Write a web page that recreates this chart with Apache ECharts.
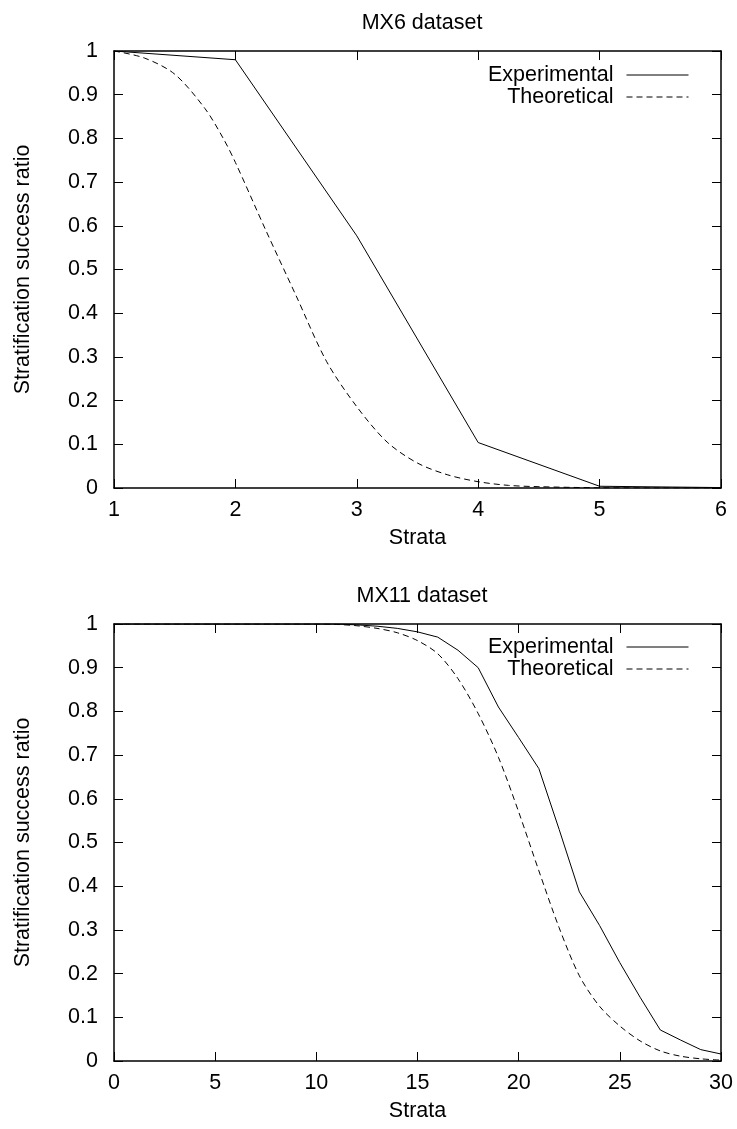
<!DOCTYPE html>
<html>
<head>
<meta charset="utf-8">
<script src="https://cdn.jsdelivr.net/npm/echarts@6/dist/echarts.min.js"></script>
<style>
html,body{margin:0;padding:0;background:#fff;}
#chart{width:737px;height:1129px;}
</style>
</head>
<body>
<div id="chart"></div>
<script>
// ---- Data ----
const mx6Strata = [1, 2, 3, 4, 5, 6];
const mx6Experimental = [1.0, 0.98, 0.577, 0.104, 0.004, 0.001];
const mx6TheoStrata = [1, 1.25, 1.5, 1.75, 1.9, 2, 2.25, 2.5, 2.75, 3, 3.25, 3.5, 3.75, 4, 4.25, 4.5, 5, 5.5, 6];
const mx6Theoretical = [1.0, 0.984, 0.947, 0.868, 0.80, 0.745, 0.59, 0.44, 0.29, 0.186, 0.105, 0.057, 0.03, 0.0144, 0.006, 0.003, 0.0005, 0.0001, 0];

const mx11Strata = [0,1,2,3,4,5,6,7,8,9,10,11,12,13,14,15,16,17,18,19,20,21,22,23,24,25,26,27,28,29,30];
const mx11Experimental = [1,1,1,1,1,1,1,1,1,1,1,1.0,0.998,0.995,0.99,0.982,0.97,0.94,0.90,0.81,0.74,0.669,0.53,0.387,0.31,0.225,0.146,0.071,0.048,0.026,0.016];
const mx11Theoretical = [1,1,1,1,1,1,1,1,1,1,1,0.999,0.996,0.99,0.98,0.962,0.932,0.875,0.795,0.695,0.57,0.435,0.305,0.195,0.125,0.08,0.046,0.023,0.011,0.005,0.002];

const titles = ['MX6 dataset', 'MX11 dataset'];
const xName = 'Strata';
const yName = 'Stratification success ratio';
const seriesNames = ['Experimental', 'Theoretical'];

// ---- Chart ----
const FONT = 'Liberation Sans';
const FS = 21.5;
const txt = {fontFamily: FONT, fontSize: FS, color: '#000'};
const lineCol = '#000';

function zip(xs, ys) { return xs.map((x, i) => [x, ys[i]]); }

const grids = [
  {left: 114, right: 16, top: 51, height: 437},
  {left: 114, right: 16, top: 624, height: 437}
];

function xAxisFor(gi, min, max, interval, mirror) {
  return {
    type: 'value', gridIndex: gi, min: min, max: max, interval: interval,
    position: mirror ? 'top' : 'bottom',
    name: mirror ? '' : xName, nameLocation: 'middle', nameGap: 39,
    nameTextStyle: txt,
    axisLine: {show: true, onZero: false, lineStyle: {color: lineCol, width: 1.5}},
    axisTick: {show: true, inside: true, length: 9, lineStyle: {color: lineCol, width: 1}},
    axisLabel: {show: !mirror, margin: 11, ...txt},
    splitLine: {show: false}
  };
}
function yAxisFor(gi, mirror) {
  return {
    type: 'value', gridIndex: gi, min: 0, max: 1, interval: 0.1,
    position: mirror ? 'right' : 'left',
    name: mirror ? '' : yName, nameLocation: 'middle', nameGap: 80,
    nameTextStyle: txt,
    axisLine: {show: true, onZero: false, lineStyle: {color: lineCol, width: 1.5}},
    axisTick: {show: true, inside: true, length: 9, lineStyle: {color: lineCol, width: 1}},
    axisLabel: {show: !mirror, margin: 16, ...txt},
    splitLine: {show: false}
  };
}

const solid = {color: lineCol, width: 1, type: 'solid'};
const dashed = {color: lineCol, width: 1, type: [6, 4]};

function legendAt(top) {
  return {
    orient: 'vertical', align: 'right', right: 43, top: top,
    itemWidth: 62, itemHeight: 14, itemGap: 0,
    itemStyle: {color: 'rgba(0,0,0,0)', borderColor: 'rgba(0,0,0,0)', borderWidth: 0, opacity: 0},
    lineStyle: {width: 1, inactiveColor: '#000'},
    data: seriesNames, selectedMode: false,
    textStyle: {...txt, lineHeight: 21.5, padding: [0, 8, 0, 0]}
  };
}

const option = {
  animation: false,
  backgroundColor: '#fff',
  title: [
    {text: titles[0], left: 417, top: 7, textAlign: 'center', textStyle: {...txt, fontWeight: 'normal'}},
    {text: titles[1], left: 417, top: 580, textAlign: 'center', textStyle: {...txt, fontWeight: 'normal'}}
  ],
  legend: [legendAt(59), legendAt(631)],
  grid: grids,
  xAxis: [
    xAxisFor(0, 1, 6, 1, false), xAxisFor(0, 1, 6, 1, true),
    xAxisFor(1, 0, 30, 5, false), xAxisFor(1, 0, 30, 5, true)
  ],
  yAxis: [
    yAxisFor(0, false), yAxisFor(0, true),
    yAxisFor(1, false), yAxisFor(1, true)
  ],
  series: [
    {name: seriesNames[0], type: 'line', xAxisIndex: 0, yAxisIndex: 0, symbol: 'none',
     data: zip(mx6Strata, mx6Experimental), lineStyle: solid, itemStyle: {color: lineCol}},
    {name: seriesNames[1], type: 'line', xAxisIndex: 0, yAxisIndex: 0, symbol: 'none', smooth: 0.3,
     data: zip(mx6TheoStrata, mx6Theoretical), lineStyle: dashed, itemStyle: {color: lineCol}},
    {name: seriesNames[0], type: 'line', xAxisIndex: 2, yAxisIndex: 2, symbol: 'none',
     data: zip(mx11Strata, mx11Experimental), lineStyle: solid, itemStyle: {color: lineCol}},
    {name: seriesNames[1], type: 'line', xAxisIndex: 2, yAxisIndex: 2, symbol: 'none', smooth: 0.3,
     data: zip(mx11Strata, mx11Theoretical), lineStyle: dashed, itemStyle: {color: lineCol}}
  ]
};

const chart = echarts.init(document.getElementById('chart'), null, {renderer: 'canvas'});
chart.setOption(option);
</script>
</body>
</html>
